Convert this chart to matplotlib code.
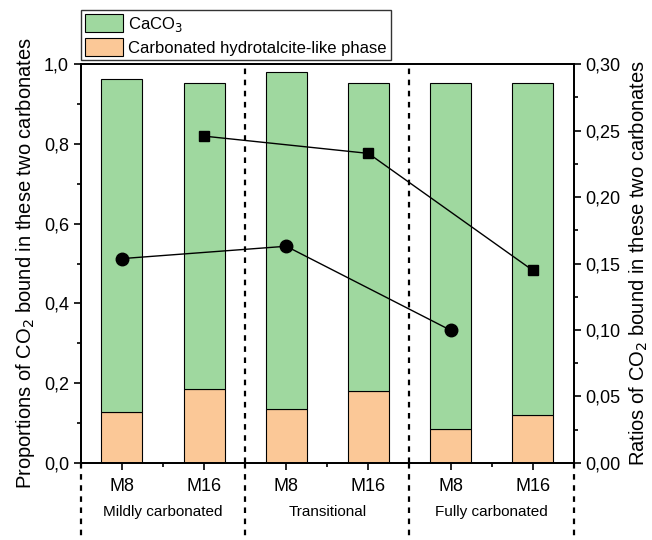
import numpy as np
import matplotlib
matplotlib.use("Agg")
import matplotlib.pyplot as plt
import matplotlib.transforms as mtransforms
from matplotlib.ticker import FuncFormatter, MultipleLocator

plt.rcParams["font.family"] = ["Liberation Sans", "DejaVu Sans"]

# =========================
# Data
# =========================
samples = ["M8", "M16", "M8", "M16", "M8", "M16"]
groups = ["Mildly carbonated", "Transitional", "Fully carbonated"]

total_bound = [0.962, 0.953, 0.980, 0.953, 0.952, 0.952]
hydrotalcite = [0.127, 0.186, 0.136, 0.179, 0.085, 0.120]

ratio_m8 = [0.1537, 0.163, 0.0998]
ratio_m16 = [0.2459, 0.2329, 0.1449]

caco3 = [t - h for t, h in zip(total_bound, hydrotalcite)]

x = np.arange(1, len(samples) + 1)
x_m8 = x[0::2]
x_m16 = x[1::2]

green = "#9FD89F"
orange = "#FBC897"

# =========================
# Figure
# =========================
fig = plt.figure(figsize=(6.52, 5.40), dpi=100)
ax = fig.add_axes([0.124, 0.143, 0.756, 0.738])

ax.bar(x, hydrotalcite, width=0.5, color=orange, edgecolor="black",
       linewidth=0.8, label="Carbonated hydrotalcite-like phase", zorder=2)
ax.bar(x, caco3, width=0.5, bottom=hydrotalcite, color=green,
       edgecolor="black", linewidth=0.8, label="CaCO$_3$", zorder=2)

ax.set_xlim(0.5, 6.5)
ax.set_ylim(0, 1.0)

comma1 = FuncFormatter(lambda v, p: f"{v:.1f}".replace(".", ","))
ax.yaxis.set_major_locator(MultipleLocator(0.2))
ax.yaxis.set_minor_locator(MultipleLocator(0.1))
ax.yaxis.set_major_formatter(comma1)

ax.set_xticks(x)
ax.set_xticklabels(samples, fontsize=13)
ax.set_xticks([1.5, 3.5, 5.5], minor=True)
ax.tick_params(axis="both", which="major", direction="out", length=5,
               width=1.2, labelsize=13)
ax.tick_params(axis="both", which="minor", direction="out", length=3,
               width=1.2)
ax.tick_params(axis="x", pad=6)

ax.set_ylabel("Proportions of CO$_2$ bound in these two carbonates",
              fontsize=14.5, labelpad=5)

for s in ax.spines.values():
    s.set_linewidth(1.3)

# group separators
for xs in [2.5, 4.5]:
    ax.axvline(xs, color="black", linestyle=(0, (2.5, 2.5)), linewidth=1.6,
               zorder=1)

trans = mtransforms.blended_transform_factory(ax.transData, ax.transAxes)
for xs in [0.5, 2.5, 4.5, 6.5]:
    ax.plot([xs, xs], [0, -0.2], color="black", linestyle=(0, (2.5, 2.5)),
            linewidth=1.6, transform=trans, clip_on=False)

for i, g in enumerate(groups):
    ax.text(1.5 + 2 * i, -0.123, g, transform=trans, ha="center",
            va="center", fontsize=11)

# =========================
# Right axis: ratios
# =========================
ax2 = ax.twinx()
ax2.set_ylim(0, 0.30)
ax2.plot(x_m16, ratio_m16, color="black", linewidth=1, marker="s",
         markersize=7, zorder=5)
ax2.plot(x_m8, ratio_m8, color="black", linewidth=1, marker="o",
         markersize=9, zorder=5)

ax2.yaxis.set_major_locator(MultipleLocator(0.05))
ax2.yaxis.set_minor_locator(MultipleLocator(0.025))
ax2.yaxis.set_major_formatter(
    FuncFormatter(lambda v, p: f"{v:.2f}".replace(".", ",")))
ax2.tick_params(axis="y", which="major", direction="out", length=5,
                width=1.2, labelsize=13)
ax2.tick_params(axis="y", which="minor", direction="out", length=3,
                width=1.2)
ax2.set_ylabel("Ratios of CO$_2$ bound in these two carbonates",
               fontsize=14.5, labelpad=5)
for s in ax2.spines.values():
    s.set_linewidth(1.3)

# =========================
# Legend
# =========================
handles, labels = ax.get_legend_handles_labels()
leg = ax.legend(handles[::-1], labels[::-1], loc="lower left",
                bbox_to_anchor=(0.0, 1.01), fontsize=12,
                frameon=True, fancybox=False, edgecolor="black",
                handlelength=2.3, handleheight=1.3, borderpad=0.25,
                labelspacing=0.25, handletextpad=0.3, borderaxespad=0)
leg.get_frame().set_linewidth(1.0)

fig.savefig("out.png", dpi=100)
